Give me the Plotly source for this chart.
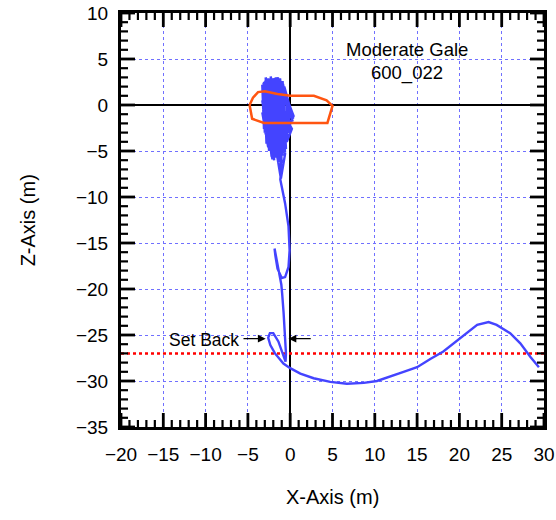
import plotly.graph_objects as go

# ---------------- data ----------------
# far-field drift curve (x, z) in metres
curve_x = [29.4, 28.4, 27.2, 26.0, 24.4, 23.45, 22.1, 20.9, 19.7, 18.1, 16.56, 15.0,
           13.4, 11.8, 10.26, 8.7, 6.7, 4.74, 2.77, 1.2, 0.0, -0.8]
curve_z = [-28.5, -27.4, -25.9, -24.8, -23.9, -23.6, -23.9, -24.75, -25.7, -26.8, -27.6, -28.5,
           -29.0, -29.5, -30.0, -30.2, -30.3, -30.1, -29.7, -29.2, -28.6, -28.1]

# set-back loop, stem and hook
loop_x = [-1.2, -1.8, -2.35, -2.6, -2.4, -2.0, -1.4, -0.9, -0.55, -0.5, -0.58, -0.78,
          -0.95, -1.05, -1.3, -1.65, -1.85, -1.75, -1.5, -1.0, -0.6, -0.2, -0.07, -0.2,
          -0.6, -1.0, -1.17, -1.05]
loop_z = [-27.7, -27.0, -26.1, -25.3, -24.8, -24.8, -25.7, -27.0, -27.9, -27.0, -25.5, -22.6,
          -20.5, -19.5, -18.3, -16.8, -15.6, -16.4, -17.8, -18.8, -18.7, -17.6, -15.8, -13.2,
          -10.7, -9.0, -8.1, -7.1]

# oscillation blob around station
blob_x = [-1.2, -1.6, -1.1, -0.6, -2.0, -1.5, -2.6, -2.2, -3.1, -2.8, -1.4, -0.9, -2.3,
          -1.9, -3.2, -3.0, -1.1, -0.3, -2.8, -2.5, -1.7, -1.4, -3.3, -3.1, -0.8, 0.3,
          -0.5, -0.1, -2.0, -1.7, -2.9, -2.4, -1.3, -0.6, -2.5, -2.1, -3.3, -3.0, -1.0,
          0.4, -0.2, -1.6, -1.0, -2.7, -2.2, -1.2, -0.4, 0.2, -2.9, -3.2, -1.8, -1.5,
          -2.4, -2.0, -0.9, -0.5, -3.0, -2.7, -1.5, -1.2, -2.2, -1.8, -3.25, -2.9,
          -0.7, 0.35, -1.9, -1.3, -2.75, -2.35, -1.05, -0.7, -3.15, -2.85, -1.45, -1.1,
          -2.55, -2.0, -0.85, 0.1, -2.1, -1.65, -3.3, -2.6, -1.25, -0.9, -2.45, -1.3]
blob_z = [-5.0, -5.2, -8.0, -5.3, 2.6, -5.8, 2.9, -5.6, 2.5, -4.2, 2.8, -4.6, 3.1,
          -6.0, 1.8, -3.0, 2.5, -3.5, 2.8, -5.0, 3.0, -6.2, 2.2, -2.6, 1.5, -1.8,
          0.3, -3.0, 2.9, -5.4, 3.0, -4.8, 2.7, -5.2, 2.6, -5.9, 0.5, -1.5, 2.2,
          -1.2, -2.5, 2.9, -6.3, 2.4, -3.8, 2.9, -4.0, -2.6, 2.7, -0.5, 2.8, -5.5,
          2.9, -4.4, 2.6, -4.8, 2.6, -3.6, 3.0, -5.6, 1.0, -4.9, 1.2, -3.2,
          2.0, -1.5, 2.8, -6.1, 2.9, -4.5, 2.5, -5.0, 2.4, -2.2, 3.0, -6.0,
          2.7, -5.3, 2.3, -2.8, 2.8, -5.7, -0.8, -4.6, 2.6, -5.5, 2.8, -5.9]

# vessel outline
vessel_x = [-4.8, -4.4, -3.8, -3.0, -1.5, 0.0, 2.8, 4.3, 5.0, 4.4, -3.1, -4.5, -4.8]
vessel_z = [0.0, 0.8, 1.4, 1.5, 1.2, 1.0, 1.0, 0.5, -0.1, -1.95, -1.95, -1.5, 0.0]

# set-back limit line
setback_x = [-20, 30]
setback_z = [-27, -27]

# set-back arrows: (tail x, head x) at z
arrow_z = -25.4
arrow_left = (-5.7, -2.9)
arrow_right = (2.6, -0.2)

title_lines = ["Moderate Gale", "600_022"]
x_ticks = list(range(-20, 31, 5))
z_ticks = list(range(-35, 11, 5))
x_minor = [v for v in range(-20, 31) if v % 5]
z_minor = [v for v in range(-35, 11) if v % 5]
x_range = [-20, 30]
z_range = [-35, 10]

# ---------------- layout constants ----------------
FONT = "Liberation Sans, Arial, Helvetica, sans-serif"
W, H = 556, 520
ML, MR, MT, MB = 121, 12, 13, 93
MAJOR_PX, MINOR_PX = 14, 7
x_per_px = (x_range[1] - x_range[0]) / (W - ML - MR)
z_per_px = (z_range[1] - z_range[0]) / (H - MT - MB)


def tick_paths(xvals, zvals, length_px):
    """Inward tick segments on all four sides, in data coordinates."""
    tx, tz = [], []
    dz = length_px * z_per_px
    dx = length_px * x_per_px
    for v in xvals:
        tx += [v, v, None, v, v, None]
        tz += [z_range[0], z_range[0] + dz, None, z_range[1], z_range[1] - dz, None]
    for v in zvals:
        tx += [x_range[0], x_range[0] + dx, None, x_range[1], x_range[1] - dx, None]
        tz += [v, v, None, v, v, None]
    return tx, tz


track_x = curve_x + loop_x + blob_x
track_z = curve_z + loop_z + blob_z

fig = go.Figure()
fig.add_trace(go.Scatter(x=setback_x, y=setback_z, mode="lines",
                         line=dict(color="#ff0000", width=2.5, dash="dot"),
                         hoverinfo="skip"))
fig.add_trace(go.Scatter(x=track_x, y=track_z, mode="lines",
                         line=dict(color="#4444ff", width=2.4)))
fig.add_trace(go.Scatter(x=vessel_x, y=vessel_z, mode="lines",
                         line=dict(color="#ff5511", width=2.5)))

mx, mz = tick_paths(x_minor, z_minor, MINOR_PX)
fig.add_trace(go.Scatter(x=mx, y=mz, mode="lines", line=dict(color="black", width=2.2),
                         hoverinfo="skip", connectgaps=False))
Mx, Mz = tick_paths(x_ticks, z_ticks, MAJOR_PX)
fig.add_trace(go.Scatter(x=Mx, y=Mz, mode="lines", line=dict(color="black", width=2.8),
                         hoverinfo="skip", connectgaps=False))

# invisible trace on label axes
fig.add_trace(go.Scatter(x=[x_range[0]], y=[z_range[0]], xaxis="x2", yaxis="y2",
                         mode="markers", marker=dict(opacity=0), hoverinfo="skip"))

fig.add_annotation(x=13.8, y=6.0, text=title_lines[0], showarrow=False,
                   font=dict(size=18.5, color="black", family=FONT))
fig.add_annotation(x=13.8, y=3.5, text=title_lines[1], showarrow=False,
                   font=dict(size=18.5, color="black", family=FONT))

for tail, head in (arrow_left, arrow_right):
    fig.add_annotation(x=head, y=arrow_z, ax=tail, ay=arrow_z, axref="x", ayref="y",
                       xref="x", yref="y", text="", showarrow=True,
                       arrowhead=2, arrowsize=1.3, arrowwidth=1.2, arrowcolor="black")
fig.add_annotation(x=arrow_left[0] - 0.1, y=arrow_z - 0.1, text="Set Back", showarrow=False,
                   xanchor="right", font=dict(size=17.5, color="black", family=FONT))

# axis titles
fig.add_annotation(xref="paper", yref="paper", x=0.5, y=-0.170, text="X-Axis (m)",
                   showarrow=False, yanchor="middle",
                   font=dict(size=20, color="black", family=FONT))
fig.add_annotation(xref="paper", yref="paper", x=-0.219, y=0.5, text="Z-Axis (m)",
                   showarrow=False, textangle=-90, xanchor="center",
                   font=dict(size=20, color="black", family=FONT))

main_axis = dict(
    showline=True, linewidth=3, linecolor="black", mirror=True,
    tickmode="linear", dtick=5, ticks="",
    showgrid=True, gridcolor="#7070ff", gridwidth=1, griddash="dot",
    zeroline=True, zerolinecolor="black", zerolinewidth=2,
    showticklabels=False, automargin=False,
)
label_axis = dict(
    showline=False, showgrid=False, zeroline=False, automargin=False,
    ticks="outside", tickcolor="rgba(0,0,0,0)",
    tickfont=dict(size=19, color="black", family=FONT),
)

fig.update_layout(
    width=W, height=H, showlegend=False,
    margin=dict(l=ML, r=MR, t=MT, b=MB),
    plot_bgcolor="white", paper_bgcolor="white",
    font=dict(family=FONT, color="black"),
    xaxis=dict(range=x_range, tick0=x_ticks[0], **main_axis),
    yaxis=dict(range=z_range, tick0=z_ticks[0], **main_axis),
    xaxis2=dict(range=x_range, tickvals=x_ticks, overlaying="x", anchor="y2",
                side="bottom", ticklen=10, **label_axis),
    yaxis2=dict(range=z_range, tickvals=z_ticks, overlaying="y", anchor="x2",
                side="left", ticklen=8, **label_axis),
)

fig.write_html("out.html")
